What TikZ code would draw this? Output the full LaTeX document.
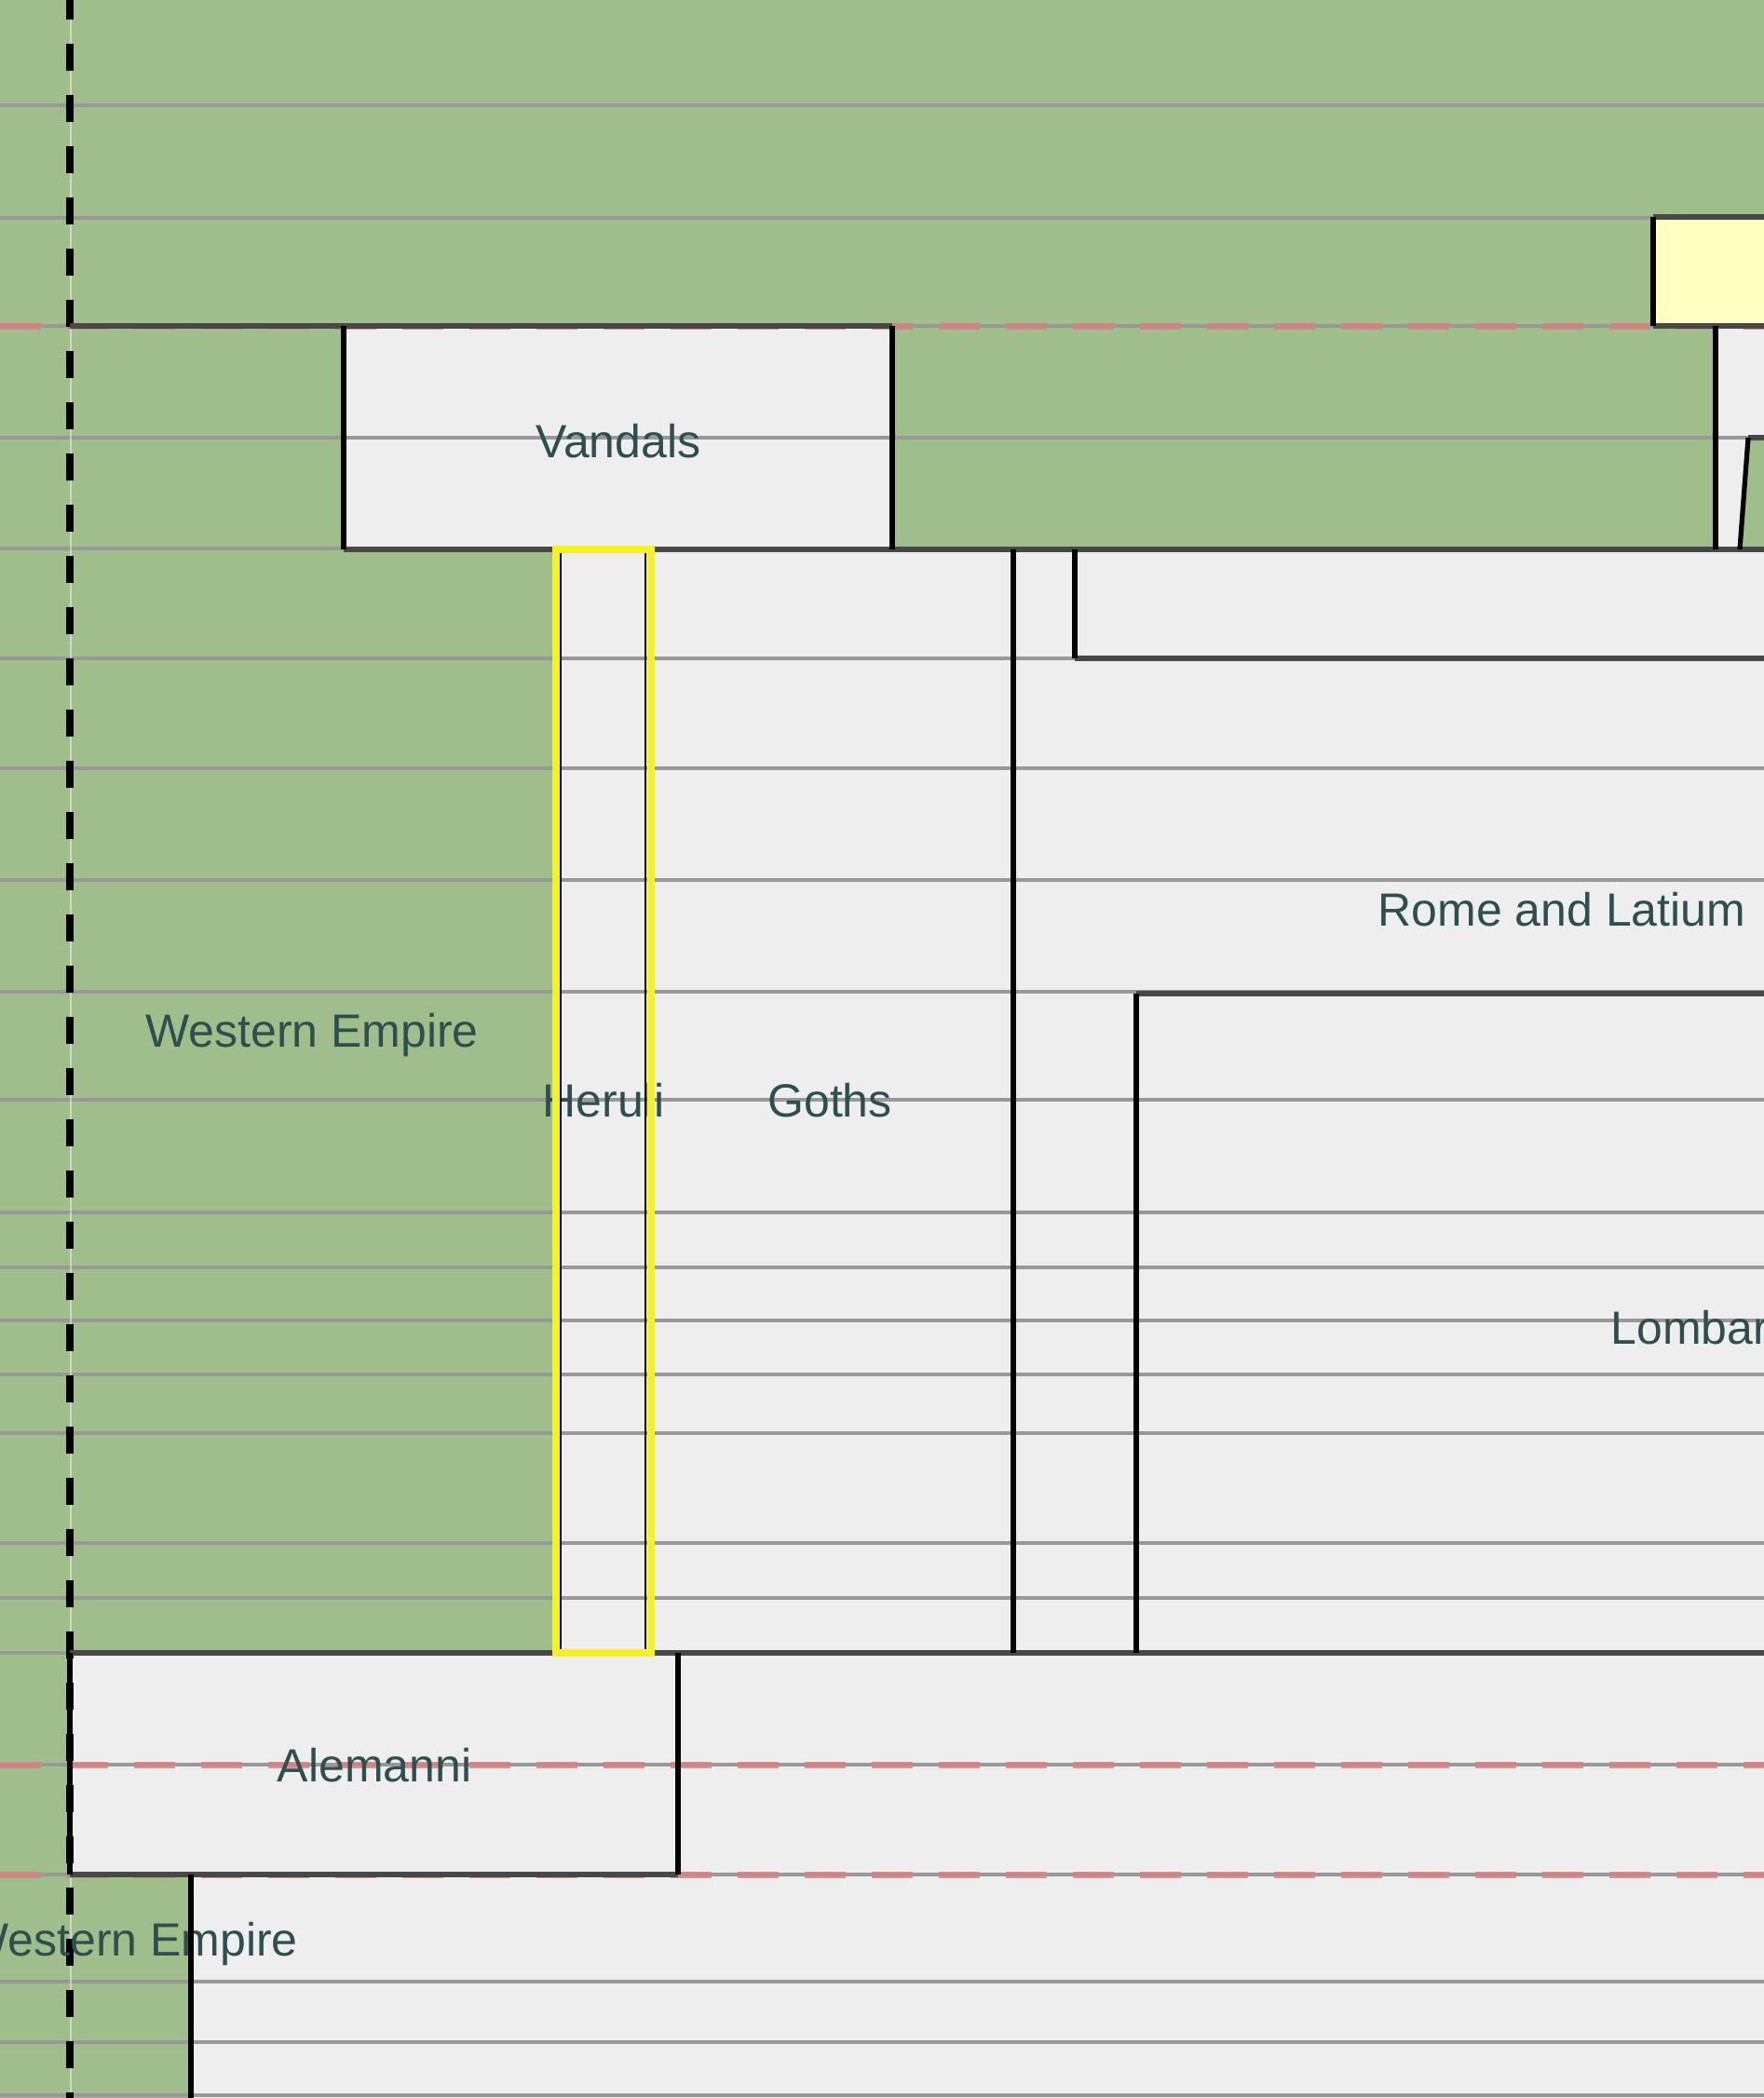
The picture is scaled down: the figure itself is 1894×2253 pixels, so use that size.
\documentclass[tikz,border=0pt]{standalone}
\usepackage{fontspec}
\setmainfont{Liberation Sans}
\definecolor{mapgreen}{RGB}{159,190,139}
\definecolor{cellgrey}{RGB}{238,238,238}
\definecolor{paleyellow}{RGB}{255,255,194}
\definecolor{gridgrey}{RGB}{152,152,152}
\definecolor{rimgrey}{RGB}{72,72,72}
\definecolor{slate}{RGB}{47,79,79}
\definecolor{markyellow}{RGB}{245,240,40}
\definecolor{dashred}{RGB}{214,130,130}

\begin{document}
\begin{tikzpicture}[x=0.5pt, y=-0.5pt,
    placename/.style={font=\fontsize{25}{30}\selectfont, text=slate, inner sep=0pt,
                      text height=18pt, text depth=0pt},
    gridline/.style={gridgrey, line width=1.6pt},
    redline/.style={dashred, opacity=0.85, line width=3.5pt, dash pattern=on 22pt off 14pt},
    wall/.style={black, line width=2.6pt},
    rim/.style={rimgrey, line width=3.2pt},
    heruliframe/.style={markyellow, line width=3.6pt}
]
    \useasboundingbox (0,0) rectangle (1894,2253);
    \clip (0,0) rectangle (1894,2253);
    % territories
    \fill[mapgreen] (0,0) rectangle (1894,2253);
    \fill[cellgrey] (369,350) rectangle (958,590);
    \fill[paleyellow] (1775,233) rectangle (1894,350);
    \fill[cellgrey] (1842,350) rectangle (1894,470);
    \fill[cellgrey] (1842,470) -- (1877,470) -- (1868,590) -- (1842,590) -- cycle;
    \fill[cellgrey] (597,590) rectangle (1894,1775);
    \fill[cellgrey] (75,1775) rectangle (1894,2013);
    \fill[cellgrey] (205,2013) rectangle (1894,2253);
    % year lines
    \foreach \y in {113,234,350,470,589,707,825,945,1065,1181,1302,1361,1418,1476,1539,1657,1716,1775,1895,2013,2128,2193,2250}
        \draw[gridline] (0,\y) -- (1894,\y);
    \foreach \y in {350,1895,2013}
        \draw[redline] (0,\y) -- (1894,\y);
    \draw[white, opacity=0.45, line width=1pt] (76,0) -- (76,2253);
    \draw[black, line width=4pt, dash pattern=on 14.5pt off 13pt] (75,-8) -- (75,2253);
    % names
    \node[placename] (vandals) at (664,473) {Vandals};
    \node[placename] (westtop) at (335,1106) {Western Empire};
    \node[placename] (heruli) at (648,1181) {Heruli};
    \node[placename] (goths) at (891,1181) {Goths};
    \node[placename] (rome) at (1677,976) {Rome and Latium};
    \node[placename, anchor=west] (lombards) at (1729,1425) {Lombards};
    \node[placename] (alemanni) at (402,1895) {Alemanni};
    \node[placename] (westlow) at (141,2082) {Western Empire};
    % borders
    \draw[rim] (75,350) -- (958,350);
    \draw[rim] (1775,350) -- (1894,350);
    \draw[rim] (1775,233) -- (1894,233);
    \draw[rim] (369,590) -- (1894,590);
    \draw[rim] (1154,707) -- (1894,707);
    \draw[rim] (1220,1067) -- (1894,1067);
    \draw[rim] (75,1775) -- (1894,1775);
    \draw[rim] (75,2013) -- (728,2013);
    \draw[rim] (1877,470) -- (1894,470);
    \draw[wall] (369,350) -- (369,590);
    \draw[wall] (958,350) -- (958,590);
    \draw[wall] (1775,233) -- (1775,350);
    \draw[wall] (1842,350) -- (1842,590);
    \draw[wall] (1877,470) -- (1868,590);
    \draw[wall] (1088,590) -- (1088,1775);
    \draw[wall] (1154,590) -- (1154,707);
    \draw[wall] (1220,1067) -- (1220,1775);
    \draw[wall] (75,1775) -- (75,2013);
    \draw[wall] (728,1775) -- (728,2013);
    \draw[wall] (205,2013) -- (205,2253);
    \draw[black, line width=1pt] (602,590) -- (602,1775);
    \draw[black, line width=1pt] (693,590) -- (693,1775);
    \draw[heruliframe] (597,590) rectangle (699,1775);
\end{tikzpicture}
\end{document}
